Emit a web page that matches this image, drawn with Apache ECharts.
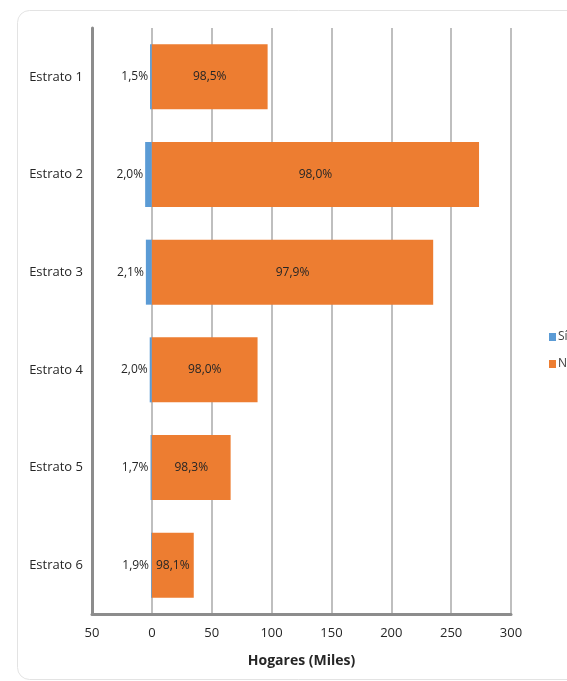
<!DOCTYPE html>
<html><head><meta charset="utf-8">
<script src="https://cdn.jsdelivr.net/npm/echarts@6/dist/echarts.min.js"></script>
<style>html,body{margin:0;padding:0;background:#fff}#c{width:567px;height:681px}</style>
</head><body><div id="c"></div>
<script>
const categories = ['Estrato 1','Estrato 2','Estrato 3','Estrato 4','Estrato 5','Estrato 6'];
const siValues = [-1.5, -5.6, -5.0, -1.8, -1.1, -0.7];
const noValues = [96.7, 273.3, 235.0, 88.3, 65.8, 35.0];
const siLabels = ['1,5%','2,0%','2,1%','2,0%','1,7%','1,9%'];
const noLabels = ['98,5%','98,0%','97,9%','98,0%','98,3%','98,1%'];
const xTicks = [-50, 0, 50, 100, 150, 200, 250, 300];

const font = '"Open Sans", "Noto Sans", sans-serif';
const chart = echarts.init(document.getElementById('c'), null, {renderer:'canvas'});
chart.setOption({
  animation: false,
  textStyle: {fontFamily: font},
  graphic: [{
    type: 'rect', z: -10, left: 17, top: 10,
    shape: {width: 600, height: 669, r: 12},
    style: {fill: '#fff', stroke: '#e3e3e3', lineWidth: 1}
  }],
  legend: {
    orient: 'vertical', left: 544, top: 326, itemWidth: 7, itemHeight: 8, itemGap: 15,
    icon: 'rect',
    textStyle: {fontFamily: font, fontSize: 12, color: '#404040', padding: [0,0,0,-3]},
    data: ['Sí','No']
  },
  grid: {left: 92, right: 56, top: 28, bottom: 67, containLabel: false},
  xAxis: {
    type: 'value', min: xTicks[0], max: xTicks[xTicks.length-1], interval: 50,
    name: 'Hogares (Miles)', nameLocation: 'middle', nameGap: 40,
    nameTextStyle: {fontFamily: font, fontSize: 14, fontWeight: 'bold', color: '#262626'},
    axisLine: {show: true, lineStyle: {color: '#8c8c8c', width: 3}},
    axisTick: {show: false},
    axisLabel: {formatter: v => String(Math.abs(v)), color: '#262626', fontSize: 13, fontFamily: font, margin: 13},
    splitLine: {show: true, lineStyle: {color: '#bfbfbf', width: 2}}
  },
  yAxis: {
    type: 'category', data: categories, inverse: true,
    axisLine: {show: true, onZero: false, lineStyle: {color: '#8c8c8c', width: 3}},
    axisTick: {show: false},
    axisLabel: {color: '#262626', fontSize: 13, fontFamily: font, margin: 9}
  },
  series: [
    {
      name: 'Sí', type: 'bar', stack: 't', data: siValues, barWidth: 65,
      itemStyle: {color: '#5b9bd5'},
      label: {show: true, position: 'left', distance: 2, color: '#262626', fontSize: 12, fontFamily: font,
        formatter: p => siLabels[p.dataIndex]}
    },
    {
      name: 'No', type: 'bar', stack: 't', data: noValues, barWidth: 65,
      itemStyle: {color: '#ed7d31'},
      label: {show: true, position: 'inside', color: '#262626', fontSize: 12, fontFamily: font,
        formatter: p => noLabels[p.dataIndex]}
    }
  ]
});
</script></body></html>
